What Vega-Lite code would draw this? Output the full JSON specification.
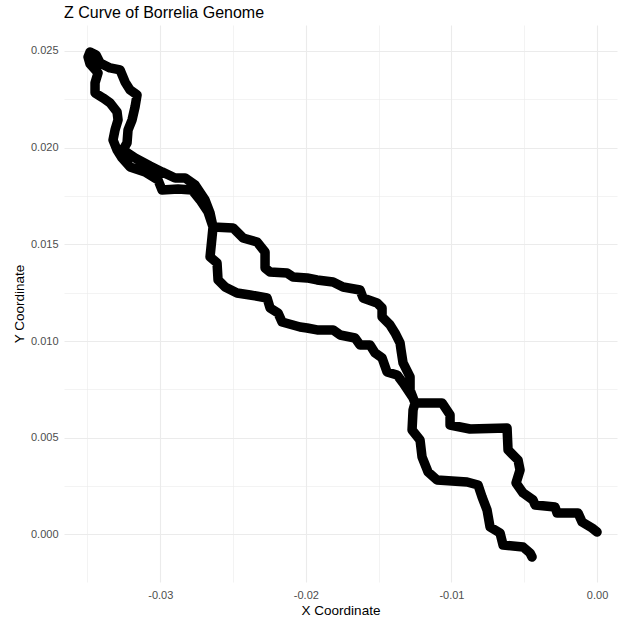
{
  "$schema": "https://vega.github.io/schema/vega-lite/v6.json",
  "autosize": {"type": "none"},
  "padding": {"left": 64, "top": 25, "right": 7, "bottom": 37},
  "width": 553,
  "height": 557,
  "background": "white",
  "config": {
    "view": {"stroke": null},
    "font": "Liberation Sans",
    "axis": {
      "domain": false,
      "ticks": false,
      "tickSize": 0,
      "gridColor": "#ebebeb",
      "labelColor": "#4d4d4d",
      "labelFontSize": 11,
      "labelFont": "Liberation Sans",
      "titleFont": "Liberation Sans",
      "titleFontSize": 13.5,
      "titleFontWeight": "normal",
      "titleColor": "#000000"
    }
  },
  "title": {
    "text": "Z Curve of Borrelia Genome",
    "anchor": "start",
    "frame": "group",
    "fontSize": 16,
    "fontWeight": "normal",
    "font": "Liberation Sans",
    "color": "#000000",
    "offset": -9,
    "baseline": "alphabetic"
  },
  "data": {
    "values": [
      {"step": 1, "x": 0.0, "y": 0.00013},
      {"step": 2, "x": -0.000343, "y": 0.000336},
      {"step": 3, "x": -0.00103, "y": 0.000646},
      {"step": 4, "x": -0.001305, "y": 0.001112},
      {"step": 5, "x": -0.002747, "y": 0.001112},
      {"step": 6, "x": -0.002885, "y": 0.001422},
      {"step": 7, "x": -0.004258, "y": 0.001525},
      {"step": 8, "x": -0.004396, "y": 0.001784},
      {"step": 9, "x": -0.005082, "y": 0.002146},
      {"step": 10, "x": -0.005563, "y": 0.002663},
      {"step": 11, "x": -0.005288, "y": 0.003335},
      {"step": 12, "x": -0.005426, "y": 0.003852},
      {"step": 13, "x": -0.006113, "y": 0.004369},
      {"step": 14, "x": -0.006181, "y": 0.005507},
      {"step": 15, "x": -0.008723, "y": 0.005455},
      {"step": 16, "x": -0.010096, "y": 0.005662},
      {"step": 17, "x": -0.010096, "y": 0.006179},
      {"step": 18, "x": -0.010646, "y": 0.006799},
      {"step": 19, "x": -0.0125, "y": 0.006799},
      {"step": 20, "x": -0.012843, "y": 0.007472},
      {"step": 21, "x": -0.012843, "y": 0.008144},
      {"step": 22, "x": -0.013324, "y": 0.008868},
      {"step": 23, "x": -0.013462, "y": 0.00954},
      {"step": 24, "x": -0.01353, "y": 0.009902},
      {"step": 25, "x": -0.013874, "y": 0.010419},
      {"step": 26, "x": -0.014217, "y": 0.010832},
      {"step": 27, "x": -0.014766, "y": 0.011246},
      {"step": 28, "x": -0.014766, "y": 0.011711},
      {"step": 29, "x": -0.01511, "y": 0.01197},
      {"step": 30, "x": -0.016071, "y": 0.012229},
      {"step": 31, "x": -0.016277, "y": 0.012642},
      {"step": 32, "x": -0.017445, "y": 0.012797},
      {"step": 33, "x": -0.018132, "y": 0.013056},
      {"step": 34, "x": -0.019231, "y": 0.013159},
      {"step": 35, "x": -0.019918, "y": 0.013263},
      {"step": 36, "x": -0.020879, "y": 0.013314},
      {"step": 37, "x": -0.021291, "y": 0.013521},
      {"step": 38, "x": -0.022459, "y": 0.013573},
      {"step": 39, "x": -0.022802, "y": 0.01378},
      {"step": 40, "x": -0.022802, "y": 0.014607},
      {"step": 41, "x": -0.023352, "y": 0.015124},
      {"step": 42, "x": -0.024313, "y": 0.015331},
      {"step": 43, "x": -0.025, "y": 0.015848},
      {"step": 44, "x": -0.026374, "y": 0.0159},
      {"step": 45, "x": -0.02658, "y": 0.016624},
      {"step": 46, "x": -0.026923, "y": 0.017296},
      {"step": 47, "x": -0.02761, "y": 0.018071},
      {"step": 48, "x": -0.028297, "y": 0.018433},
      {"step": 49, "x": -0.028984, "y": 0.018433},
      {"step": 50, "x": -0.029876, "y": 0.018744},
      {"step": 51, "x": -0.030701, "y": 0.019054},
      {"step": 52, "x": -0.031731, "y": 0.019467},
      {"step": 53, "x": -0.032555, "y": 0.019881},
      {"step": 54, "x": -0.03228, "y": 0.020243},
      {"step": 55, "x": -0.032212, "y": 0.020915},
      {"step": 56, "x": -0.031937, "y": 0.021432},
      {"step": 57, "x": -0.031731, "y": 0.022104},
      {"step": 58, "x": -0.031593, "y": 0.022725},
      {"step": 59, "x": -0.032074, "y": 0.022984},
      {"step": 60, "x": -0.032418, "y": 0.023397},
      {"step": 61, "x": -0.032761, "y": 0.024018},
      {"step": 62, "x": -0.033448, "y": 0.024121},
      {"step": 63, "x": -0.034135, "y": 0.02438},
      {"step": 64, "x": -0.034409, "y": 0.024793},
      {"step": 65, "x": -0.034822, "y": 0.024948},
      {"step": 66, "x": -0.034959, "y": 0.02469},
      {"step": 67, "x": -0.034822, "y": 0.024328},
      {"step": 68, "x": -0.034272, "y": 0.023862},
      {"step": 69, "x": -0.034478, "y": 0.023346},
      {"step": 70, "x": -0.034478, "y": 0.022829},
      {"step": 71, "x": -0.033929, "y": 0.02257},
      {"step": 72, "x": -0.033448, "y": 0.022311},
      {"step": 73, "x": -0.032967, "y": 0.021846},
      {"step": 74, "x": -0.032898, "y": 0.021432},
      {"step": 75, "x": -0.033104, "y": 0.020915},
      {"step": 76, "x": -0.033242, "y": 0.020398},
      {"step": 77, "x": -0.032967, "y": 0.019881},
      {"step": 78, "x": -0.032624, "y": 0.019467},
      {"step": 79, "x": -0.032074, "y": 0.019002},
      {"step": 80, "x": -0.031044, "y": 0.018744},
      {"step": 81, "x": -0.030151, "y": 0.01833},
      {"step": 82, "x": -0.029876, "y": 0.017813},
      {"step": 83, "x": -0.028777, "y": 0.017864},
      {"step": 84, "x": -0.027816, "y": 0.017813},
      {"step": 85, "x": -0.027266, "y": 0.017296},
      {"step": 86, "x": -0.026717, "y": 0.016675},
      {"step": 87, "x": -0.026374, "y": 0.0159},
      {"step": 88, "x": -0.026442, "y": 0.015383},
      {"step": 89, "x": -0.02658, "y": 0.014349},
      {"step": 90, "x": -0.026099, "y": 0.014038},
      {"step": 91, "x": -0.02603, "y": 0.013159},
      {"step": 92, "x": -0.025549, "y": 0.012797},
      {"step": 93, "x": -0.024725, "y": 0.012487},
      {"step": 94, "x": -0.023832, "y": 0.012384},
      {"step": 95, "x": -0.022665, "y": 0.012229},
      {"step": 96, "x": -0.022459, "y": 0.011711},
      {"step": 97, "x": -0.021909, "y": 0.011453},
      {"step": 98, "x": -0.021635, "y": 0.010988},
      {"step": 99, "x": -0.020398, "y": 0.010729},
      {"step": 100, "x": -0.019918, "y": 0.010677},
      {"step": 101, "x": -0.019231, "y": 0.010574},
      {"step": 102, "x": -0.018132, "y": 0.010574},
      {"step": 103, "x": -0.017651, "y": 0.010315},
      {"step": 104, "x": -0.016621, "y": 0.01016},
      {"step": 105, "x": -0.016277, "y": 0.009798},
      {"step": 106, "x": -0.015591, "y": 0.009798},
      {"step": 107, "x": -0.015247, "y": 0.009385},
      {"step": 108, "x": -0.014766, "y": 0.009126},
      {"step": 109, "x": -0.014423, "y": 0.008402},
      {"step": 110, "x": -0.013736, "y": 0.008247},
      {"step": 111, "x": -0.013324, "y": 0.007833},
      {"step": 112, "x": -0.012637, "y": 0.007058},
      {"step": 113, "x": -0.0125, "y": 0.006799},
      {"step": 114, "x": -0.012637, "y": 0.006437},
      {"step": 115, "x": -0.012706, "y": 0.005403},
      {"step": 116, "x": -0.012157, "y": 0.004886},
      {"step": 117, "x": -0.012019, "y": 0.004007},
      {"step": 118, "x": -0.011607, "y": 0.003232},
      {"step": 119, "x": -0.010989, "y": 0.002818},
      {"step": 120, "x": -0.008929, "y": 0.002715},
      {"step": 121, "x": -0.008173, "y": 0.002559},
      {"step": 122, "x": -0.007898, "y": 0.001939},
      {"step": 123, "x": -0.007555, "y": 0.001267},
      {"step": 124, "x": -0.007349, "y": 0.000388},
      {"step": 125, "x": -0.006662, "y": 0.000078},
      {"step": 126, "x": -0.006456, "y": -0.000543},
      {"step": 127, "x": -0.005082, "y": -0.000646},
      {"step": 128, "x": -0.004602, "y": -0.000957},
      {"step": 129, "x": -0.004464, "y": -0.001163}
    ]
  },
  "mark": {"type": "line", "color": "#000000", "strokeWidth": 9.5, "strokeCap": "round", "strokeJoin": "round"},
  "encoding": {
    "order": {"field": "step", "type": "quantitative"},
    "x": {
      "field": "x",
      "type": "quantitative",
      "title": "X Coordinate",
      "scale": {"domain": [-0.03661, 0.00137], "nice": false, "zero": false},
      "axis": {
        "values": [-0.035, -0.03, -0.025, -0.02, -0.015, -0.01, -0.005, 0],
        "labelExpr": "(round(datum.value*1000) % 10 == 0) ? replace(format(datum.value, '.2f'), '\u2212', '-') : ''",
        "gridWidth": {"condition": {"test": "round(datum.value*1000) % 10 != 0", "value": 0.6}, "value": 1.1},
        "labelPadding": 7,
        "titlePadding": 3
      }
    },
    "y": {
      "field": "y",
      "type": "quantitative",
      "title": "Y Coordinate",
      "scale": {"domain": [-0.002456, 0.02634], "nice": false, "zero": false},
      "axis": {
        "values": [0, 0.0025, 0.005, 0.0075, 0.01, 0.0125, 0.015, 0.0175, 0.02, 0.0225, 0.025],
        "labelExpr": "(round(datum.value*10000) % 50 == 0) ? format(datum.value, '.3f') : ''",
        "gridWidth": {"condition": {"test": "round(datum.value*10000) % 50 != 0", "value": 0.6}, "value": 1.1},
        "labelPadding": 6,
        "titlePadding": 4
      }
    }
  }
}
